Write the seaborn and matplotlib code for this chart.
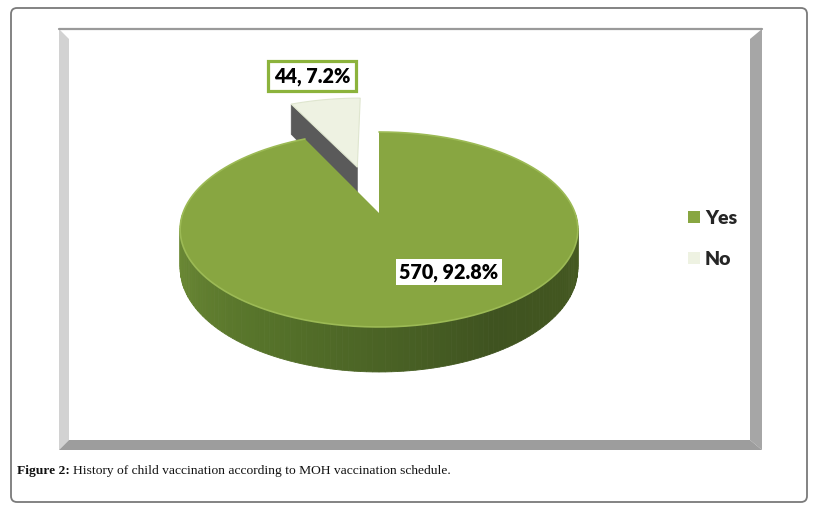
import numpy as np
import matplotlib
matplotlib.use("Agg")
import matplotlib.pyplot as plt
import seaborn as sns
from matplotlib.patches import Polygon, FancyBboxPatch, Patch
from matplotlib.colors import to_rgb

# --- Data ---
categories = ['Yes', 'No']
counts = [570, 44]
percents = [92.8, 7.2]
caption_bold = 'Figure 2:'
caption_text = 'History of child vaccination according to MOH vaccination schedule.'

# --- Style ---
top_colors = ['#88a641', '#eef2e2']
radial_color = '#5a5a5a'
side_stops = ['#718f38', '#56732a', '#3f5320', '#465a21']

sns.set_theme(style='white')
plt.rcParams['font.family'] = ['Lato', 'DejaVu Sans']

# pseudo 3D projection of a flat disk (u right, v towards the back)
CX, CY = 379, 213
A, B, H, P = 196, 94.7, 37.4, 0.169
EXPLODE = [0.0, 0.54]


def proj(u, v, d=0.0):
    s = 1.0 / (1.0 + P * v)
    return CX + A * u * s, CY - B * v * s + H * d * s


def arc(t0, t1, off, n=200, d=0.0):
    t = np.radians(np.linspace(t0, t1, n))
    return proj(np.cos(t) + off[0], np.sin(t) + off[1], d)


def lerp_colors(stops, x):
    stops = np.array([to_rgb(c) for c in stops])
    pos = np.linspace(0, 1, len(stops))
    return np.array([np.interp(x, pos, stops[:, k]) for k in range(3)]).T


fig = plt.figure(figsize=(8.2, 5.09), dpi=100)
ax = fig.add_axes([0, 0, 1, 1])
ax.set_xlim(0, 820)
ax.set_ylim(509, 0)
ax.axis('off')

# --- outer border and bevelled chart frame ---
ax.add_patch(FancyBboxPatch((11, 8), 796, 494, boxstyle='round,pad=0,rounding_size=6',
                            fc='white', ec='#7a7a7a', lw=1.3, zorder=0))
L, T, R, Bt, w = 59, 29, 762, 450, 10
ax.add_patch(Polygon([(L, T), (L + w, T + w), (L + w, Bt - w), (L, Bt)], closed=True,
                     fc='#d2d2d2', ec='none', zorder=1))
ax.add_patch(Polygon([(R, T), (R - w - 2, T + w), (R - w - 2, Bt - w), (R, Bt)], closed=True,
                     fc='#a6a6a6', ec='none', zorder=1))
ax.add_patch(Polygon([(L, Bt), (L + w, Bt - w), (R - w - 2, Bt - w), (R, Bt)], closed=True,
                     fc='#9d9d9d', ec='none', zorder=1))
ax.plot([L, R], [T, T], color='#9a9a9a', lw=1.6, zorder=1)

# --- pie geometry from the data ---
fracs = np.array(counts) / np.sum(counts)
edges = 90 - 360 * np.concatenate([[0], np.cumsum(fracs)])
offsets = []
for i in range(len(counts)):
    mid = np.radians((edges[i] + edges[i + 1]) / 2)
    offsets.append((EXPLODE[i] * np.cos(mid), EXPLODE[i] * np.sin(mid)))

# "No" slice (back): visible radial face, then top face
off = offsets[1]
te = np.radians(edges[1])
ux, vy = np.cos(te) + off[0], np.sin(te) + off[1]
face = [proj(off[0], off[1]), proj(ux, vy), proj(ux, vy, 1), proj(off[0], off[1], 1)]
ax.add_patch(Polygon(face, closed=True, fc=radial_color, ec=radial_color, lw=0.5, zorder=2))
xs, ys = arc(edges[1], edges[2], off)
ax0, ay0 = proj(*off)
ax.add_patch(Polygon(np.column_stack([np.r_[ax0, xs], np.r_[ay0, ys]]), closed=True,
                     fc=top_colors[1], ec='#dfe6cf', lw=0.8, zorder=3))

# "Yes" slice: front side band with shading, then top face
off = offsets[0]
n = 120
ts = np.linspace(180, 360, n + 1)
cols = lerp_colors(side_stops, np.linspace(0, 1, n))
for k in range(n):
    tx, ty = arc(ts[k], ts[k + 1], off, n=4)
    bx, by = arc(ts[k + 1], ts[k], off, n=4, d=1)
    ax.add_patch(Polygon(np.column_stack([np.r_[tx, bx], np.r_[ty, by]]), closed=True,
                         fc=cols[k], ec=cols[k], lw=0.6, zorder=4))
xs, ys = arc(edges[0], edges[1], off, n=400)
ax0, ay0 = proj(*off)
ax.add_patch(Polygon(np.column_stack([np.r_[ax0, xs], np.r_[ay0, ys]]), closed=True,
                     fc=top_colors[0], ec='none', zorder=5))
ax.plot(xs, ys, color='#9cba55', lw=1.2, zorder=5)

# --- data labels ---
lab_font = dict(family=['Lato', 'DejaVu Sans'], weight='heavy', size=14.2, color='black')
ax.text(312, 76, f'{counts[1]}, {percents[1]}%', ha='center', va='center', zorder=7,
        bbox=dict(boxstyle='square,pad=0.3', fc='white', ec='#8cb33c', lw=2.3), **lab_font)
ax.text(449, 272, f'{counts[0]}, {percents[0]}%', ha='center', va='center', zorder=7,
        bbox=dict(boxstyle='square,pad=0.18', fc='white', ec='none'), **lab_font)

# --- legend ---
handles = [Patch(facecolor=c, edgecolor='none') for c in top_colors]
leg = ax.legend(handles, categories, loc='center left', bbox_to_anchor=(671 / 820, 1 - 239 / 509),
                frameon=False, prop=dict(family='Lato', weight='heavy', size=14),
                handlelength=0.6, handleheight=0.6, handletextpad=0.25, labelspacing=1.25)
leg.set_zorder(8)

# --- caption ---
cap_font = dict(family=['Liberation Serif', 'DejaVu Serif'], size=9.7, color='#111111')
t1 = ax.text(17, 474, caption_bold, weight='bold', va='baseline', **cap_font)
fig.canvas.draw()
bb = t1.get_window_extent(fig.canvas.get_renderer())
ax.text(bb.x1 + 3, 474, caption_text, va='baseline', **cap_font)

fig.savefig('out.png', dpi=100)
